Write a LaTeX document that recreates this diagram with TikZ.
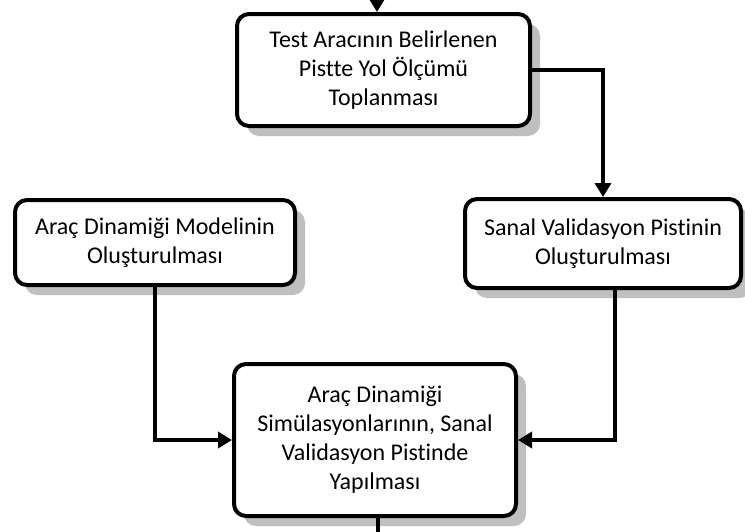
\documentclass[tikz,border=0pt]{standalone}
\usepackage{fontspec}
\setmainfont{Carlito}[Ligatures={NoCommon}]
\usetikzlibrary{arrows.meta,shadows}
\begin{document}
\begin{tikzpicture}[x=1pt,y=-1pt,
  box/.style={draw=black, line width=4pt, rounded corners=12pt, fill=white,
    inner sep=0pt, align=center, font=\fontsize{24}{29}\selectfont,
    drop shadow={shadow xshift=10pt, shadow yshift=-10pt, fill=black!25, opacity=1}},
  conn/.style={line width=4pt, -{Triangle[length=14pt,width=16pt]}},
  plain/.style={line width=4pt}]
\useasboundingbox (0,0) rectangle (745,531);
\node[box, minimum width=293pt, minimum height=112pt] (top) at (383.5,70)
  {Test Aracının Belirlenen\\Pistte Yol Ölçümü\\Toplanması};
\node[box, minimum width=276pt, minimum height=89pt] (sanal) at (603,243.5)
  {Sanal Validasyon Pistinin\\Oluşturulması};
\node[box, minimum width=280pt, minimum height=85pt] (left) at (155,242.5)
  {Araç Dinamiği Modelinin\\Oluşturulması};
\node[box, minimum width=282pt, minimum height=152pt] (bot) at (375,440)
  {Araç Dinamiği\\Simülasyonlarının, Sanal\\Validasyon Pistinde\\Yapılması};
\coordinate (in) at (377,-20);
\coordinate (out) at (378,560);
\draw[conn] (in) -- (in |- top.north);
\draw[conn] (top.east) -| (sanal.north);
\draw[conn] (left.south) |- (bot.west);
\draw[conn] ([xshift=12pt]sanal.south) |- (bot.east);
\draw[plain] (bot.south -| out) -- (out);
\end{tikzpicture}
\end{document}
